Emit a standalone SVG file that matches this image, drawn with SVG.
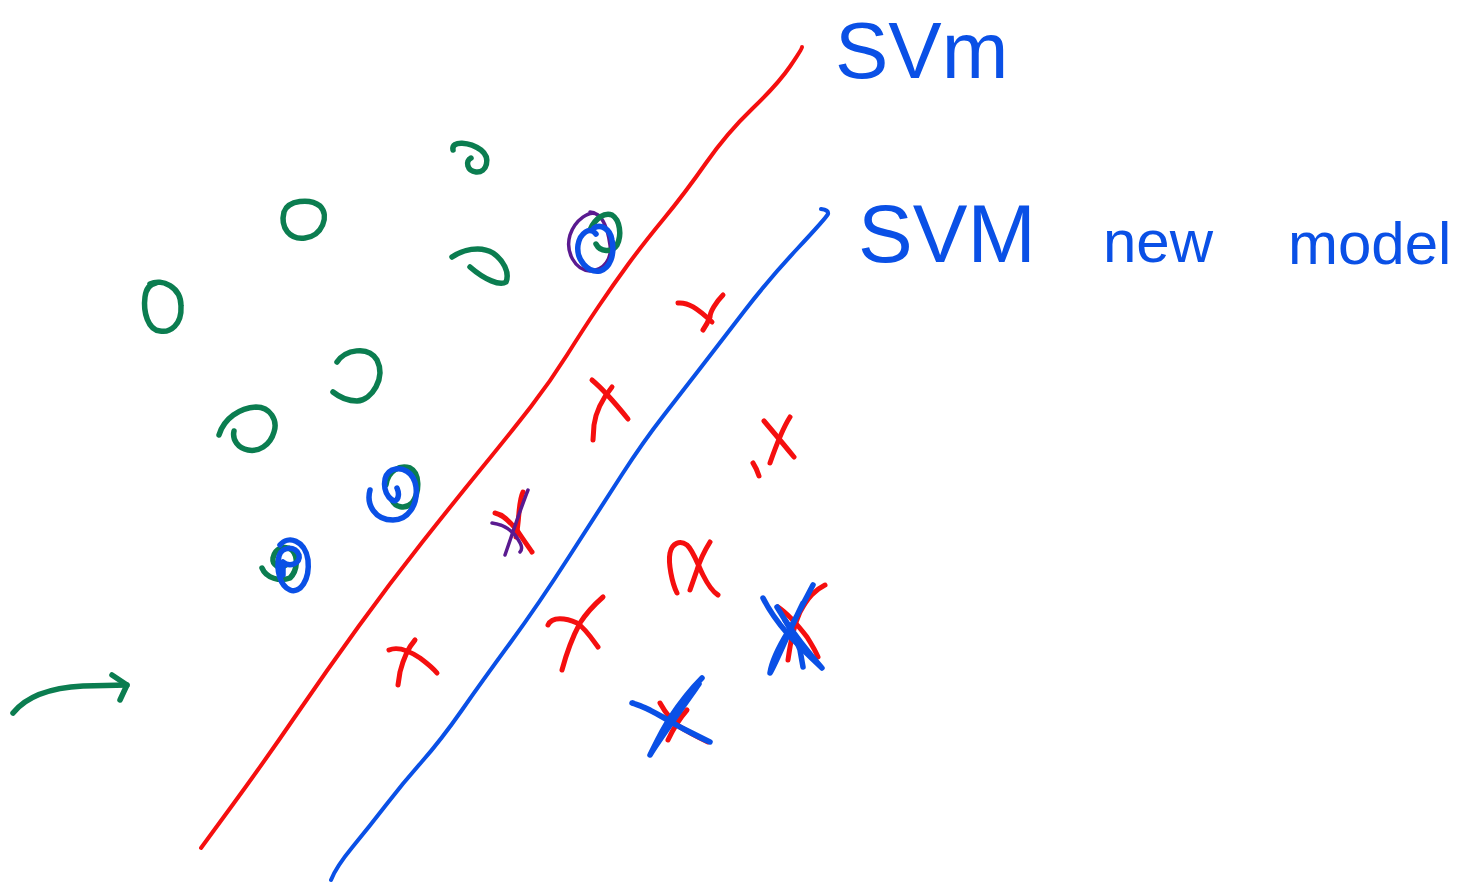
<svg xmlns="http://www.w3.org/2000/svg" width="1463" height="885" viewBox="0 0 1463 885">
<style>
  path { fill: none; stroke-linecap: round; stroke-linejoin: round; }
  .r { stroke: #f50f0f; stroke-width: 5; }
  .rl { stroke: #f50f0f; stroke-width: 4; }
  .b { stroke: #0a50e6; stroke-width: 5.5; }
  .bl { stroke: #0a50e6; stroke-width: 4; }
  .g { stroke: #0b7d50; stroke-width: 5.5; }
  .p { stroke: #5a1a90; stroke-width: 3.5; }
  .lbl { font-family: "Liberation Sans", Arial, sans-serif; fill: #0a50e6; }
</style>
<rect width="1463" height="885" fill="#ffffff"/>

<g id="boundaries">
  <path id="svm-line" class="rl" d="M201,848 L232.5,805 Q264,762 295.5,716 Q327,670 358.5,626.5 Q390,583 422,542.5 Q454,502 483,466.5 Q512,431 531,406.5 Q550,382 567,355 Q584,328 598.5,306.5 Q613,285 628,264.5 Q643,244 664,218.5 Q685,193 706,163 Q727,133 752.5,108.5 Q778,84 790,66.5 Q802,49 802,47"/>
  <path id="svm-new-line" class="bl" d="M331,880 Q336,867 352.5,847 Q369,827 386,805 Q403,783 422,761.5 Q441,740 462,710 Q483,680 510.5,642.5 Q538,605 569.5,556 Q601,507 622,474.5 Q643,442 664,415 Q685,388 702,366 Q719,344 744,311.5 Q769,279 797.5,248.5 Q826,218 828,214 Q829,210 821,209"/>
</g>

<g id="class-o">
  <path class="g" d="M453,150 C451,140 470,142 481,150 C491,158 487,173 476,172 C467,171 465,161 471,158"/>
  <path class="g" d="M284,212 C288,200 310,198 320,206 C330,216 322,236 305,238 C290,240 280,228 284,212"/>
  <path class="g" d="M150,284 C162,278 181,287 181,306 C182,325 170,333 160,331 C148,330 143,312 145,297 C146,289 150,284 156,283"/>
  <path class="g" d="M337,362 C345,350 368,345 377,360 C386,378 372,400 357,401 C346,401 338,396 333,392"/>
  <path class="g" d="M219,435 C224,418 240,408 256,407 C270,407 278,420 274,432 C270,446 258,452 248,450 C238,448 232,440 234,431"/>
  <path class="g" d="M452,257 C462,250 480,245 493,253 C503,260 510,272 506,282 C500,286 485,280 470,267"/>
</g>

<g id="support-o-top">
  <path class="p" d="M598,215 C590,209 575,220 570,235 C565,252 575,270 590,271 C605,270 612,258 610,245 C608,230 603,213 590,212"/>
  <path class="g" d="M590,230 C595,218 605,212 612,215 C620,220 622,235 617,245 C612,253 600,252 596,244"/>
  <path class="b" d="M596,234 C590,226 580,233 578,245 C576,260 588,273 600,271 C610,268 615,255 612,240 C610,228 600,224 594,228"/>
</g>

<g id="support-o-mid">
  <path class="g" d="M386,485 C388,470 400,465 410,468 C420,473 420,492 412,503 C405,510 395,507 392,500"/>
  <path class="b" d="M370,490 C366,505 375,520 393,520 C408,520 418,505 416,487 C414,472 402,466 392,470 C382,475 382,492 392,500 C398,503 400,495 397,488"/>
</g>

<g id="support-o-low">
  <path class="g" d="M262,568 C266,578 280,582 290,578 C298,570 298,556 292,550 C285,545 275,548 273,558 C272,565 280,570 286,565"/>
  <path class="b" d="M280,545 C288,535 305,540 308,560 C310,580 300,594 290,590 C280,586 276,570 279,556 C282,546 296,546 299,555 C301,563 290,568 283,562 L283,575"/>
</g>

<g id="class-x">
  <path class="r" d="M678,303 C688,302 697,308 712,322"/>
  <path class="r" d="M723,295 C716,302 710,312 710,317 C708,322 705,327 703,330"/>
  <path class="r" d="M592,380 C598,385 607,393 628,419"/>
  <path class="r" d="M612,387 C603,398 596,410 594,425 L593,440"/>
  <path class="r" d="M764,421 C770,428 780,440 794,457"/>
  <path class="r" d="M790,417 C783,428 778,440 770,463"/>
  <path class="r" d="M753,463 C755,466 757,470 759,476"/>
  <path class="r" d="M389,650 C396,647 405,648 420,658 C428,664 433,668 437,673"/>
  <path class="r" d="M415,640 C408,648 403,660 400,672 L398,685"/>
  <path class="r" d="M548,625 C552,616 566,618 577,623 C585,628 593,640 598,647"/>
  <path class="r" d="M603,597 C595,604 587,612 580,623 C572,638 566,655 562,670"/>
  <path class="r" d="M677,593 C672,583 668,563 670,553 C672,543 680,540 687,545 C693,550 698,565 703,575 C708,585 713,592 718,595"/>
  <path class="r" d="M710,542 C705,550 700,560 697,570 L690,590"/>
</g>

<g id="support-x-purple">
  <path class="r" d="M495,513 C505,515 512,525 517,530 C522,538 528,546 532,552"/>
  <path class="r" d="M523,492 C518,502 520,517 516,537"/>
  <path class="p" d="M528,490 C520,510 512,535 505,555"/>
  <path class="p" d="M492,523 C500,524 508,527 515,535 C520,542 524,548 520,552"/>
</g>

<g id="support-x-right">
  <path class="r" d="M825,585 C815,590 808,597 800,612 C794,625 790,645 788,660"/>
  <path class="r" d="M778,607 C790,615 800,628 807,637 C812,645 816,652 818,657"/>
  <path class="b" d="M763,598 C770,612 780,625 787,633 C796,643 808,655 822,668 C815,660 798,640 785,620"/>
  <path class="b" d="M813,585 C805,600 795,620 788,632 C780,645 772,660 770,673 C775,665 785,640 803,603"/>
  <path class="b" d="M777,607 C785,620 795,635 800,650 L803,667"/>
</g>

<g id="support-x-bottom">
  <path class="r" d="M660,703 C665,712 670,720 680,727 C690,733 700,738 708,742"/>
  <path class="r" d="M687,710 C680,718 674,727 668,740"/>
  <path class="b" d="M632,703 C640,705 655,712 680,727 C692,733 702,738 710,742 C700,738 670,722 650,710 C640,705 633,704 633,703"/>
  <path class="b" d="M702,678 C690,690 680,703 670,718 C662,730 655,745 650,755 C657,743 672,722 699,684"/>
</g>

<g id="arrow">
  <path class="g" d="M13,713 C25,698 45,688 83,686 L127,685"/>
  <path class="g" d="M112,675 L127,685 L120,700"/>
</g>

<g id="label-svm">
  <text class="lbl" x="835" y="78" font-size="80">SVm</text>
</g>
<g id="label-svm-new-model">
  <text class="lbl" x="858" y="262" font-size="82">SVM</text>
  <text class="lbl" x="1103" y="262" font-size="60">new</text>
  <text class="lbl" x="1288" y="264" font-size="60">model</text>
</g>
</svg>
